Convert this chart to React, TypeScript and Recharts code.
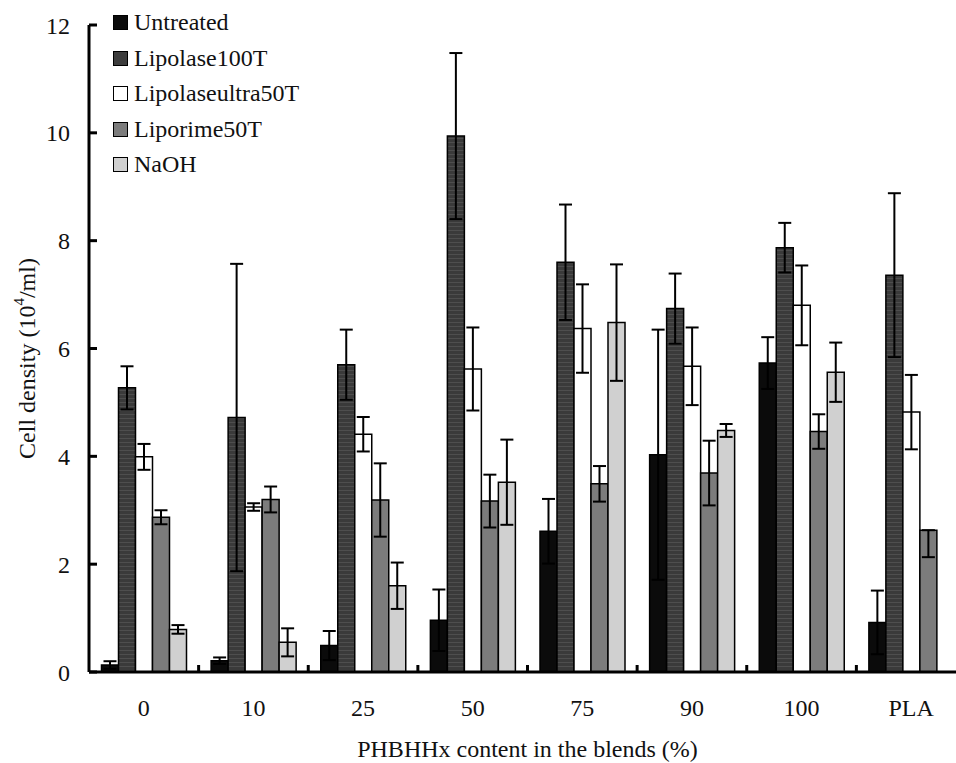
import React from 'react';
import { BarChart, Bar, XAxis, YAxis, ErrorBar } from 'recharts';

// Values (cell density, 10^4/ml) with their error bars
const CATEGORIES = ['0', '10', '25', '50', '75', '90', '100', 'PLA'];
const UNTREATED = [0.13, 0.21, 0.49, 0.96, 2.61, 4.03, 5.73, 0.92];
const UNTREATED_ERR = [0.07, 0.06, 0.27, 0.57, 0.6, 2.32, 0.48, 0.59];
const LIPOLASE = [5.27, 4.72, 5.7, 9.94, 7.6, 6.74, 7.87, 7.36];
const LIPOLASE_ERR = [0.4, 2.85, 0.65, 1.54, 1.07, 0.65, 0.46, 1.52];
const ULTRA = [3.99, 3.06, 4.41, 5.62, 6.37, 5.67, 6.8, 4.82];
const ULTRA_ERR = [0.24, 0.07, 0.32, 0.77, 0.82, 0.72, 0.74, 0.69];
const LIPORIME = [2.87, 3.2, 3.19, 3.17, 3.49, 3.69, 4.46, 2.63];
const LIPORIME_ERR: (number | number[])[] = [0.13, 0.24, 0.68, 0.49, 0.33, 0.6, 0.32, [0.5, 0]];
const NAOH = [0.79, 0.55, 1.6, 3.52, 6.48, 4.48, 5.56, null];
const NAOH_ERR = [0.08, 0.26, 0.43, 0.79, 1.08, 0.12, 0.55, null];
const Y_TICKS = [0, 2, 4, 6, 8, 10, 12];

const SERIES = [
  { key: 'untreated', name: 'Untreated', fill: '#0b0b0b' },
  { key: 'lipolase', name: 'Lipolase100T', fill: 'url(#stripes)' },
  { key: 'ultra', name: 'Lipolaseultra50T', fill: '#ffffff' },
  { key: 'liporime', name: 'Liporime50T', fill: '#7c7c7c' },
  { key: 'naoh', name: 'NaOH', fill: '#d0d0d0' },
];

const data = CATEGORIES.map((cat, i) => ({
  cat,
  untreated: UNTREATED[i],
  untreatedErr: UNTREATED_ERR[i],
  lipolase: LIPOLASE[i],
  lipolaseErr: LIPOLASE_ERR[i],
  ultra: ULTRA[i],
  ultraErr: ULTRA_ERR[i],
  liporime: LIPORIME[i],
  liporimeErr: LIPORIME_ERR[i],
  naoh: NAOH[i],
  naohErr: NAOH_ERR[i],
}));

const FONT = 'Liberation Serif, serif';
const FONT_SIZE = 24;
const CHART_W = 990;
const CHART_H = 763;
const Y_AXIS_W = 89;
const MARGIN = { top: 25, right: 24, bottom: 0, left: 0 };
const BAND = (CHART_W - Y_AXIS_W - MARGIN.right) / CATEGORIES.length;
const X_TICK_MARGIN = 27;
const textStyle = { fontFamily: FONT, fontSize: FONT_SIZE, fill: '#111' };

// category label plus the small upward tick on the right edge of each group
function XTick({ x, y, payload }: any) {
  const axisY = y - X_TICK_MARGIN;
  const bx = x + BAND / 2;
  return (
    <g>
      <text x={x} y={y} dy="0.71em" textAnchor="middle" fontFamily={FONT} fontSize={FONT_SIZE} fill="#111">
        {payload.value}
      </text>
      <path d={`M${bx},${axisY} L${bx},${axisY - 7}`} stroke="#000" strokeWidth={3} fill="none" />
    </g>
  );
}

function YLabel({ viewBox }: any) {
  const cx = viewBox.x + 27;
  const cy = viewBox.y + viewBox.height / 2 + 10;
  return (
    <text
      x={cx}
      y={cy}
      transform={`rotate(-90, ${cx}, ${cy})`}
      textAnchor="middle"
      dominantBaseline="central"
      fontFamily={FONT}
      fontSize={FONT_SIZE}
      fill="#111"
    >
      Cell density (10
      <tspan dy={-8} fontSize={15}>4</tspan>
      <tspan dy={8}>/ml)</tspan>
    </text>
  );
}

function LegendBox() {
  return (
    <div style={{ position: 'absolute', left: 113, top: 5, fontFamily: FONT, fontSize: FONT_SIZE, color: '#111' }}>
      {SERIES.map((s) => (
        <div key={s.key} style={{ display: 'flex', alignItems: 'center', height: 35.5 }}>
          <span
            style={{
              width: 13,
              height: 13,
              background: s.key === 'lipolase' ? '#3d3d3d' : s.fill,
              border: '1.5px solid #000',
              marginRight: 6,
              display: 'inline-block',
            }}
          />
          <span>{s.name}</span>
        </div>
      ))}
    </div>
  );
}

export default function App() {
  return (
    <div style={{ position: 'absolute', left: 0, top: 0, width: 956, height: 763, overflow: 'hidden', background: '#fff' }}>
      <BarChart
        width={CHART_W}
        height={CHART_H}
        data={data}
        margin={MARGIN}
        barCategoryGap={12.5}
        barGap={0}
      >
        <defs>
          <pattern id="stripes" width="6" height="4" patternUnits="userSpaceOnUse">
            <rect width="6" height="4" fill="#3a3a3a" />
            <rect y="2" width="6" height="1" fill="#4e4e4e" />
          </pattern>
        </defs>
        <XAxis
          dataKey="cat"
          height={CHART_H - MARGIN.top - 647}
          axisLine={{ stroke: '#000', strokeWidth: 3 }}
          tickLine={false}
          tickSize={0}
          tickMargin={X_TICK_MARGIN}
          tick={<XTick />}
          interval={0}
          label={{
            value: 'PHBHHx content in the blends (%)',
            position: 'insideBottom',
            offset: 6,
            style: textStyle,
          }}
        />
        <YAxis
          width={Y_AXIS_W}
          domain={[0, 12]}
          ticks={Y_TICKS}
          axisLine={{ stroke: '#000', strokeWidth: 3 }}
          tickLine={{ stroke: '#000', strokeWidth: 3 }}
          tickSize={-8}
          tickMargin={27}
          tick={textStyle}
          label={<YLabel />}
        />
        {SERIES.map((s) => (
          <Bar key={s.key} dataKey={s.key} name={s.name} fill={s.fill} stroke="#000" strokeWidth={1.5} isAnimationActive={false}>
            <ErrorBar dataKey={`${s.key}Err`} width={6.5} stroke="#000" strokeWidth={2} />
          </Bar>
        ))}
      </BarChart>
      <LegendBox />
    </div>
  );
}
